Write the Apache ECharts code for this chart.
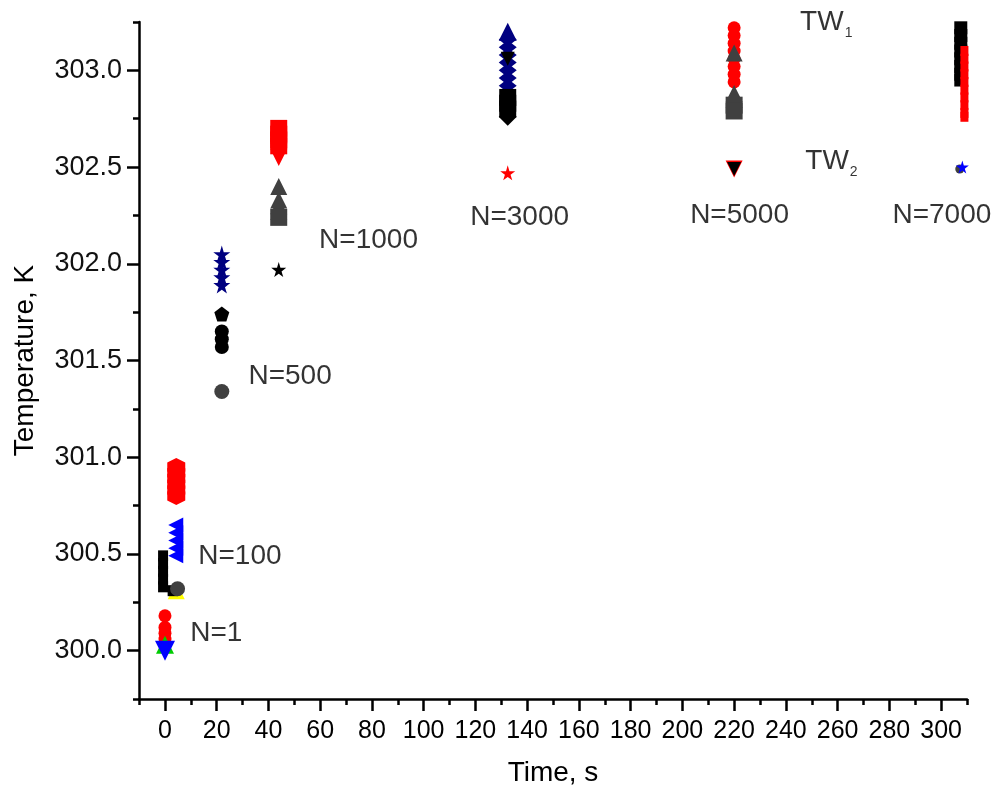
<!DOCTYPE html>
<html>
<head>
<meta charset="utf-8">
<script src="https://cdn.jsdelivr.net/npm/echarts@6/dist/echarts.min.js"></script>
<style>
  html, body { margin: 0; padding: 0; background: #fff; }
  #chart { width: 995px; height: 793px; }
</style>
</head>
<body>
<div id="chart"></div>
<script>
// tick positions
const xMajorTicks = [0, 20, 40, 60, 80, 100, 120, 140, 160, 180, 200, 220, 240, 260, 280, 300]
const xMinorTicks = [-10, 10, 30, 50, 70, 90, 110, 130, 150, 170, 190, 210, 230, 250, 270, 290, 310]
const yMajorTicks = [300.0, 300.5, 301.0, 301.5, 302.0, 302.5, 303.0]
const yMinorTicks = [299.75, 300.25, 300.75, 301.25, 301.75, 302.25, 302.75, 303.25]

// measured points [time s, temperature K], grouped by marker
const yellowTri = [[4.4, 300.31]]
const blackRects = [[-0.7, 300.49], [-0.7, 300.45], [-0.7, 300.41], [-0.7, 300.37], [-0.7, 300.33], [3.0, 300.31]]
const grayCircles = [[4.9, 300.32], [22, 301.34]]
const redCircles = [
  [0.04, 300.18], [0.04, 300.12], [0.04, 300.09], [0.04, 300.06], [0.04, 300.03],
  [220, 303.22], [220, 303.18], [220, 303.14], [220, 303.10], [220, 303.06], [220, 303.02], [220, 302.98], [220, 302.94]
]
const greenTri = [[0.04, 300.03]]
const blueDownTri = [[0.04, 300.0]]
const blueLeftTri = [[4.2, 300.65], [4.2, 300.61], [4.2, 300.57], [4.2, 300.53], [4.2, 300.49]]
const redHex = [[4.4, 300.95], [4.4, 300.92], [4.4, 300.89], [4.4, 300.86], [4.4, 300.83], [4.4, 300.80]]
const navyStars = [[22, 302.05], [22, 302.01], [22, 301.97], [22, 301.93], [22, 301.89]]
const blackPent = [[22, 301.74]]
const blackDots = [[22, 301.65], [22, 301.61], [22, 301.57]]
const redSquares = [[44, 302.70], [44, 302.67], [44, 302.64], [44, 302.61]]
const redDownTri = [[44, 302.58], [44, 302.55], [220, 302.49]]
const grayTri = [[44, 302.40], [44, 302.33], [44, 302.30], [44, 302.27], [220, 303.09], [220, 302.88], [220, 302.85]]
const grayRects = [[44, 302.24], [220, 302.82], [220, 302.79]]
const blackStar = [[44, 301.97]]
const navyTri = [[132.5, 303.20]]
const navyDiamonds = [[132.5, 303.16], [132.5, 303.12], [132.5, 303.08], [132.5, 303.04], [132.5, 303.00], [132.5, 302.96], [132.5, 302.92]]
const blackDownTri = [[132.5, 303.06], [220, 302.49]]
const blackSquares3000 = [[132.5, 302.86], [132.5, 302.83], [132.5, 302.80]]
const blackDiamond = [[132.5, 302.76]]
const redStar = [[132.5, 302.47]]
const blackSquares7000 = [[307.6, 303.22], [307.6, 303.18], [307.6, 303.14], [307.6, 303.10], [307.6, 303.06], [307.6, 303.02], [307.6, 302.98], [307.6, 302.95]]
const redRects7000 = [[309, 303.10], [309, 303.06], [309, 303.02], [309, 302.98], [309, 302.94], [309, 302.90], [309, 302.86], [309, 302.82], [309, 302.78], [309, 302.76]]
const graySmall = [[307.2, 302.49]]
const blueStar = [[308.2, 302.50]]

// text annotations [text, time, temperature]
const stepLabels = [
  ['N=1', 9.8, 300.09],
  ['N=100', 12.9, 300.49],
  ['N=500', 32.3, 301.42],
  ['N=1000', 59.6, 302.12],
  ['N=3000', 118.0, 302.24],
  ['N=5000', 203.0, 302.25],
  ['N=7000', 281.2, 302.25],
  ['{m|TW}{s|1}', 245.5, 303.25],
  ['{m|TW}{s|2}', 247.5, 302.53]
]

const STAR = 'path://M50,0 L61,35 L98,35 L68,57 L79,91 L50,70 L21,91 L32,57 L2,35 L39,35 Z'
const PENT = 'path://M50,0 L98,35 L79,91 L21,91 L2,35 Z'
const HEX = 'path://M50,0 L93,25 L93,75 L50,100 L7,75 L7,25 Z'
const DOWN = 'path://M0,0 L100,0 L50,87 Z'
const LEFT = 'path://M0,50 L87,0 L87,100 Z'

const FONT = 'Liberation Sans, Arial, sans-serif'

function marks (data, symbol, size, color) {
  return {
    type: 'scatter',
    data: data,
    symbol: symbol,
    symbolSize: size,
    itemStyle: { color: color, opacity: 1 },
    silent: true,
    animation: false
  }
}

const chart = echarts.init(document.getElementById('chart'))
const lineStyle = { color: '#000', width: 2.5 }

chart.setOption({
  backgroundColor: '#fff',
  animation: false,
  grid: { left: 139, right: 28, top: 22, bottom: 94, outerBoundsMode: 'none', containLabel: false },
  xAxis: [
    {
      type: 'value',
      min: -10,
      max: 310,
      position: 'bottom',
      name: 'Time, s',
      nameLocation: 'middle',
      nameGap: 60,
      nameTextStyle: { fontSize: 28, color: '#000', fontFamily: FONT },
      axisLine: { show: true, onZero: false, lineStyle: lineStyle },
      axisTick: { show: true, length: 12, lineStyle: lineStyle, customValues: xMajorTicks },
      axisLabel: { customValues: xMajorTicks, fontSize: 25, color: '#000', margin: 20, fontFamily: FONT },
      splitLine: { show: false }
    },
    {
      type: 'value',
      min: -10,
      max: 310,
      position: 'bottom',
      offset: 0,
      axisLine: { show: false, onZero: false },
      axisTick: { show: true, length: 6, lineStyle: lineStyle, customValues: xMinorTicks },
      axisLabel: { show: false },
      splitLine: { show: false }
    }
  ],
  yAxis: [
    {
      type: 'value',
      min: 299.75,
      max: 303.25,
      position: 'left',
      name: 'Temperature, K',
      nameLocation: 'middle',
      nameGap: 100,
      nameTextStyle: { fontSize: 28, color: '#000', fontFamily: FONT },
      axisLine: { show: true, onZero: false, lineStyle: lineStyle },
      axisTick: { show: true, length: 12, lineStyle: lineStyle, customValues: yMajorTicks },
      axisLabel: {
        customValues: yMajorTicks,
        fontSize: 27,
        color: '#111',
        margin: 17,
        fontFamily: FONT,
        formatter: v => v.toFixed(1)
      },
      splitLine: { show: false }
    },
    {
      type: 'value',
      min: 299.75,
      max: 303.25,
      position: 'left',
      offset: 0,
      axisLine: { show: false, onZero: false },
      axisTick: { show: true, length: 6, lineStyle: lineStyle, customValues: yMinorTicks },
      axisLabel: { show: false },
      splitLine: { show: false }
    }
  ],
  series: [
    marks(yellowTri, 'triangle', 17, '#ffff00'),
    marks(blackRects, 'rect', [10, 11], '#000'),
    marks(grayCircles, 'circle', 15, '#404040'),
    marks(redCircles, 'circle', 13, '#ff0000'),
    marks(greenTri, 'triangle', 18, '#00cc00'),
    marks(blueDownTri, DOWN, 20, '#0000ff'),
    marks(blueLeftTri, LEFT, 15, '#0000ff'),
    marks(redHex, HEX, 18, '#ff0000'),
    marks(navyStars, STAR, 17, '#000080'),
    marks(blackPent, PENT, 15, '#000'),
    marks(blackDots, 'circle', 14, '#000'),
    marks(redSquares, 'rect', 17, '#ff0000'),
    marks(redDownTri, DOWN, 17, '#ff0000'),
    marks(grayTri, 'triangle', 17, '#404040'),
    marks(grayRects, 'rect', 17, '#404040'),
    marks(blackStar, STAR, 15, '#000'),
    marks(navyTri, 'triangle', 18, '#000080'),
    marks(navyDiamonds, 'diamond', [18, 14], '#000080'),
    marks(blackDownTri, DOWN, 14, '#000'),
    marks(blackSquares3000, 'rect', 17, '#000'),
    marks(blackDiamond, 'diamond', 18, '#000'),
    marks(redStar, STAR, 15, '#ff0000'),
    marks(blackSquares7000, 'rect', 13, '#000'),
    marks(redRects7000, 'rect', [8, 10], '#ff0000'),
    marks(graySmall, 'circle', 9, '#404040'),
    marks(blueStar, STAR, 13, '#0000ff'),
    {
      type: 'scatter',
      data: stepLabels.map(d => ({ value: [d[1], d[2]], name: d[0] })),
      symbol: 'circle',
      symbolSize: 0,
      itemStyle: { color: 'rgba(0,0,0,0)' },
      silent: true,
      animation: false,
      label: {
        show: true,
        position: 'right',
        distance: 0,
        formatter: p => p.name,
        fontSize: 28,
        color: '#000',
        fontFamily: FONT,
        rich: {
          m: { fontSize: 28, color: '#000', fontFamily: FONT },
          s: { fontSize: 14, color: '#000', fontFamily: FONT, padding: [22, 0, 0, 1] }
        }
      }
    }
  ]
})
</script>
</body>
</html>
